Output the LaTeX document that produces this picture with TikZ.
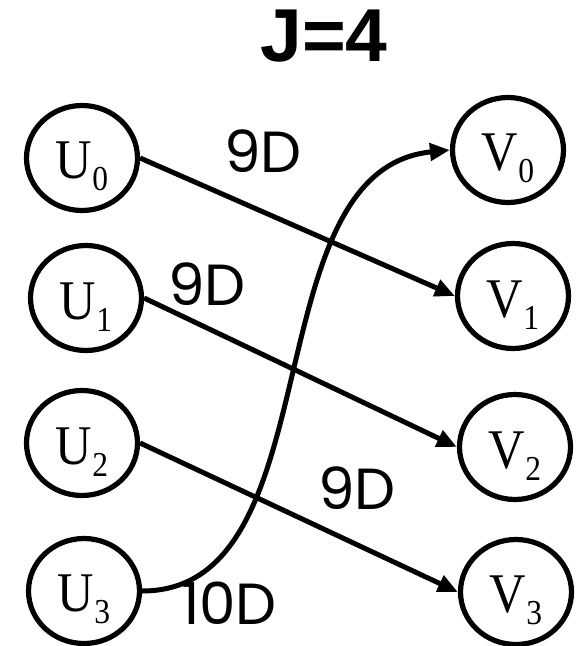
\documentclass[tikz,border=0pt]{standalone}
\usepackage{fontspec}
\setmainfont{Liberation Serif}
\newfontfamily\titlefont{Liberation Sans}
\newfontfamily\weightfont{Poppins}
\newfontfamily\vtxfont[FakeStretch=0.9]{Liberation Serif}
\usepackage{tikz}
\usetikzlibrary{arrows.meta,shapes.geometric,positioning}

% vertex label with a lowered index
\newcommand{\vname}[2]{{\vtxfont\fontsize{56bp}{56bp}\selectfont\rule{0pt}{54bp}#1\raisebox{-12bp}{\fontsize{35bp}{35bp}\selectfont #2}}}

\tikzset{
    vtx/.style={ellipse, draw, line width=5.2bp, minimum width=111bp, minimum height=105bp, inner sep=0pt},
    wt/.style={font=\weightfont\fontsize{58bp}{58bp}\selectfont, inner sep=0pt},
    match/.style={line width=5bp, -{Triangle[length=20bp,width=17bp]}}
}

\begin{document}
\begin{tikzpicture}[x=1bp, y=-1bp]
            \useasboundingbox (0, 0) rectangle (583, 646);

            % Title
            \node[font=\titlefont\bfseries\fontsize{75bp}{75bp}\selectfont, inner sep=0pt] (title) at (324, 36) {J=4};

            % Left column
            \node[vtx] (u0) at (82, 158) {\vname{U}{0}};
            \node[vtx] (u1) at (86, 298) {\vname{U}{1}};
            \node[vtx] (u2) at (82, 443) {\vname{U}{2}};
            \node[vtx] (u3) at (84, 591) {\vname{U}{3}};

            % Right column
            \node[vtx] (v0) at (508, 150) {\vname{V}{0}};
            \node[vtx] (v1) at (513, 296) {\vname{V}{1}};
            \node[vtx] (v2) at (515, 447) {\vname{V}{2}};
            \node[vtx] (v3) at (516, 592) {\vname{V}{3}};

            % Matching edges
            \draw[match] (u0.east) -- (v1.west);
            \draw[match] (u1.east) -- (v2.west);
            \draw[match] (u2.east) -- (v3.west);
            \draw[match] (u3.east) .. controls +(193, 0) and +(-199, 20) .. (v0.west);

            % Weights
            \node[wt] (w0) at (263, 151) {9D};
            \node[wt] (w1) at (207, 284) {9D};
            \node[wt] (w2) at (357, 488) {9D};
            \node[wt] (w3) at (229, 603) {10D};
\end{tikzpicture}
\end{document}
